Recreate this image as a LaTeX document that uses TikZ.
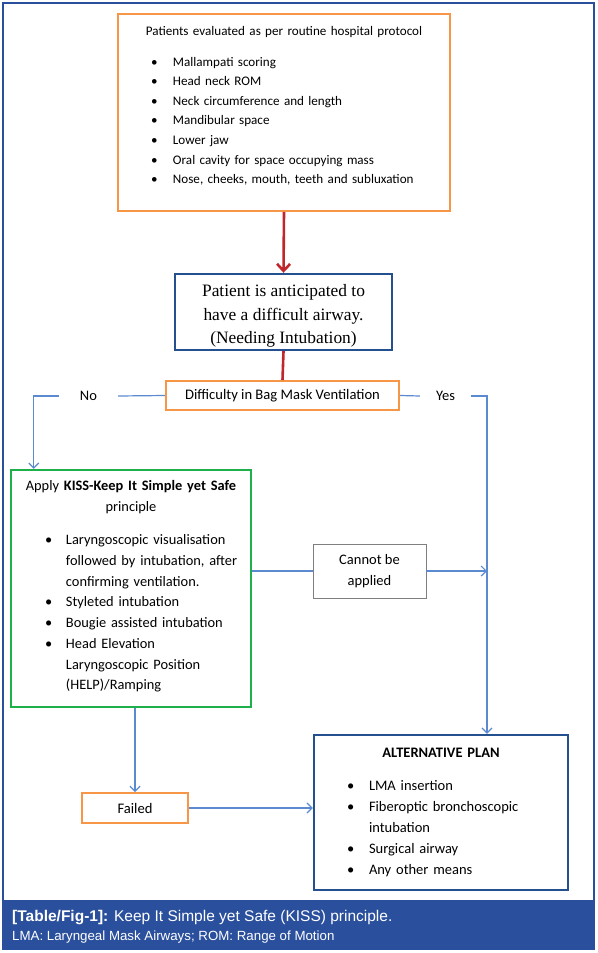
\documentclass[tikz,border=0pt]{standalone}
\usepackage{fontspec}
\setmainfont{Carlito}
\newfontfamily\serifbox{Liberation Serif}
\newfontfamily\capfont{Liberation Sans}
\usetikzlibrary{arrows.meta,positioning,calc}
\definecolor{boxorange}{HTML}{F79646}
\definecolor{boxgreen}{HTML}{1DB04B}
\definecolor{boxnavy}{HTML}{24508F}
\definecolor{boxgray}{HTML}{7F7F7F}
\definecolor{flowblue}{HTML}{5B8AD0}
\definecolor{flowred}{HTML}{C0272D}
\definecolor{capband}{HTML}{2A4F9C}
\newcommand{\itm}[3]{\hspace*{#1}\makebox[#2][l]{\textbullet}#3}
\newcommand{\cnt}[3]{\hspace*{#1}\hspace*{#2}#3}

\begin{document}
\begin{tikzpicture}[
  x=1pt, y=-1pt,
  step1/.style={draw=boxorange, line width=2pt, fill=white, align=left, inner sep=0pt, font=\fontsize{13.1}{19.6}\selectfont},
  orangebox/.style={draw=boxorange, line width=2pt, fill=white, align=center, inner sep=0pt, font=\fontsize{14.6}{21}\selectfont},
  navybox/.style={draw=boxnavy, line width=2.4pt, fill=white, inner sep=0pt},
  kissbox/.style={draw=boxgreen, line width=2.4pt, fill=white, align=left, inner sep=0pt, font=\fontsize{14.4}{20.7}\selectfont},
  graybox/.style={draw=boxgray, line width=0.9pt, fill=white, align=center, inner sep=0pt, font=\fontsize{14.5}{21}\selectfont},
  answer/.style={inner sep=0pt, font=\fontsize{14.5}{16}\selectfont},
  arrow/.style={-{Straight Barb[length=5pt, width=10pt]}, line width=1.2pt, draw=flowblue},
  link/.style={line width=1.2pt, draw=flowblue},
  redarrow/.style={-{Straight Barb[length=7pt, width=13pt]}, line width=2.6pt, draw=flowred},
  redlink/.style={line width=2.6pt, draw=flowred}
]
\useasboundingbox (0,0) rectangle (597,953);

% frame and caption band
\draw[capband, line width=1.2pt] (3,3) rectangle (594,901);
\fill[capband] (2.4,901) rectangle (595,950);

\node[step1, text width=276pt, minimum width=332pt, minimum height=197pt] (evaluate) at (284,112.5) {%
  \makebox[276pt]{Patients evaluated as per routine hospital protocol}\\[11pt]
  \itm{5pt}{22pt}{Mallampati scoring}\\
  \itm{5pt}{22pt}{Head neck ROM}\\
  \itm{5pt}{22pt}{Neck circumference and length}\\
  \itm{5pt}{22pt}{Mandibular space}\\
  \itm{5pt}{22pt}{Lower jaw}\\
  \itm{5pt}{22pt}{Oral cavity for space occupying mass}\\
  \itm{5pt}{22pt}{Nose, cheeks, mouth, teeth and subluxation}\rule[-15pt]{0pt}{15pt}};

\node[navybox, align=center, minimum width=217pt, minimum height=76pt, font=\serifbox\fontsize{17.4}{23.5}\selectfont] (anticipated) at (283.5,312) {\rule{0pt}{20pt}Patient is anticipated to\\have a difficult airway.\\(Needing Intubation)};

\node[orangebox, minimum width=233pt, minimum height=29pt] (bagmask) at (282.5,395.5) {Difficulty in Bag Mask Ventilation};

\node[answer, minimum width=59pt] (no) at (88.5,396) {No};
\node[answer, minimum width=51pt] (yes) at (445.5,396) {Yes};

\node[kissbox, text width=216pt, minimum width=240pt, minimum height=237pt] (kiss) at (131,588.5) {%
  \makebox[216pt]{Apply \textbf{KISS-Keep It Simple yet Safe}}\\
  \makebox[216pt]{principle}\\[13pt]
  \itm{22pt}{21pt}{Laryngoscopic visualisation}\\
  \cnt{22pt}{21pt}{followed by intubation, after}\\
  \cnt{22pt}{21pt}{confirming ventilation.}\\
  \itm{22pt}{21pt}{Styleted intubation}\\
  \itm{22pt}{21pt}{Bougie assisted intubation}\\
  \itm{22pt}{21pt}{Head Elevation}\\
  \cnt{22pt}{21pt}{Laryngoscopic Position}\\
  \cnt{22pt}{21pt}{(HELP)/Ramping}\rule[-7pt]{0pt}{7pt}};

\node[graybox, minimum width=113pt, minimum height=54pt] (cannot) at (369.5,571) {Cannot be\\applied};

\node[orangebox, minimum width=106pt, minimum height=30pt] (failed) at (135,808) {Failed};

\node[navybox, align=left, text width=220pt, minimum width=254pt, minimum height=155pt, font=\fontsize{14.5}{21}\selectfont] (altplan) at (441,812.5) {%
  \makebox[220pt]{\textbf{ALTERNATIVE PLAN}}\\[12pt]
  \itm{16pt}{22pt}{LMA insertion}\\
  \itm{16pt}{22pt}{Fiberoptic bronchoscopic}\\
  \cnt{16pt}{22pt}{intubation}\\
  \itm{16pt}{22pt}{Surgical airway}\\
  \itm{16pt}{22pt}{Any other means}};

\coordinate (yesdrop) at ($(altplan.north)+(46,0)$);

\draw[redarrow] (evaluate.south) -- (anticipated.north);
\draw[redlink] (anticipated.south) -- (bagmask.north);

\draw[link] (bagmask.west) -- (no.east);
\draw[arrow] (no.west) -| ($(kiss.north west)+(24,0)$);
\draw[link] (bagmask.east) -- (yes.west);
\draw[arrow] (yes.east) -| (yesdrop);

\draw[link] (cannot.west -| kiss.east) -- (cannot.west);
\draw[arrow] (cannot.east) -- (cannot.east -| yesdrop);
\draw[arrow] (failed.north |- kiss.south) -- (failed.north);
\draw[arrow] (failed.east) -- (failed.east -| altplan.west);

% caption
\node[anchor=west, text=white, inner sep=0pt, font=\capfont\fontsize{15.5}{17}\selectfont] (captitle) at (12,918) {\textbf{[Table/Fig-1]:} Keep It Simple yet Safe (KISS) principle.};
\node[anchor=west, text=white, inner sep=0pt, font=\capfont\fontsize{13.3}{15}\selectfont] (capnote) at (12,937) {LMA: Laryngeal Mask Airways; ROM: Range of Motion};
\end{tikzpicture}
\end{document}
